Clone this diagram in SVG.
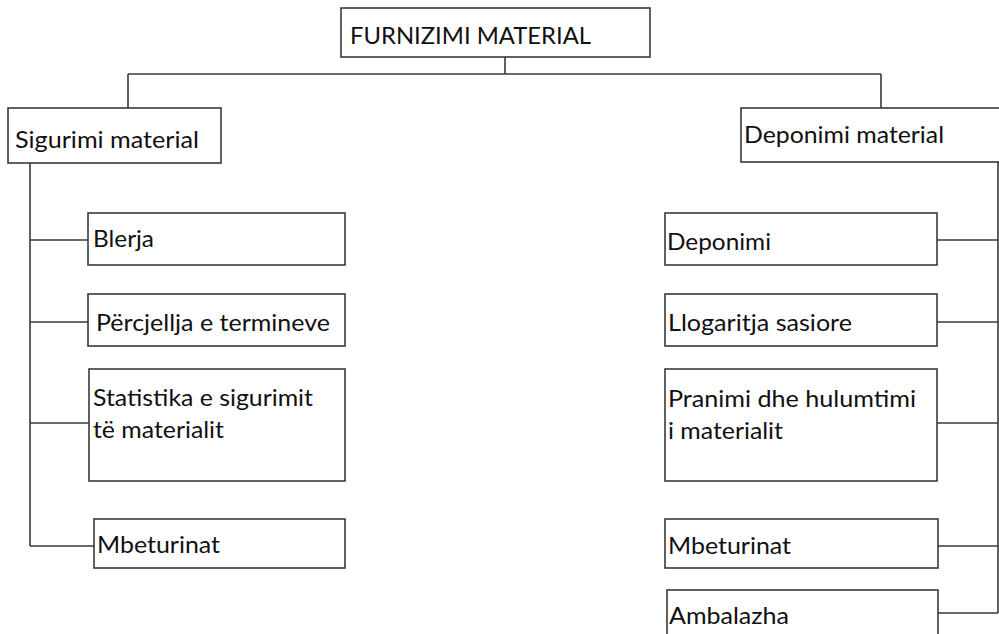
<svg xmlns="http://www.w3.org/2000/svg" width="999" height="634" viewBox="0 0 999 634">
<style>
.box{fill:#fff;stroke:#3a3a3a;stroke-width:1.6}
.ln{fill:none;stroke:#3a3a3a;stroke-width:1.6}
text{font-family:Lato,"Open Sans","Liberation Sans",sans-serif;font-size:24px;fill:#111}
</style>
<rect width="999" height="634" fill="#fff"/>
<g id="connectors">
<path class="ln" d="M505 57V74M128 74H881M128 74V108M881 74V108"/>
<path class="ln" d="M30 163V546M30 240H88M30 322H88M30 423H89M30 546H94"/>
<path class="ln" d="M998 162V613M937 240H998M937 322H998M937 423H998M938 546H998M938 613H998"/>
</g>
<g id="root"><rect class="box" x="341" y="8" width="309" height="49"/><text x="350" y="44" style="font-size:23px" textLength="241" lengthAdjust="spacingAndGlyphs">FURNIZIMI MATERIAL</text></g>
<g id="sigurimi"><rect class="box" x="8" y="108" width="213" height="55"/><text x="15" y="148" textLength="184" lengthAdjust="spacingAndGlyphs">Sigurimi material</text></g>
<g id="deponimi-material"><rect class="box" x="741" y="108" width="262" height="54"/><text x="744" y="143" textLength="200" lengthAdjust="spacingAndGlyphs">Deponimi material</text></g>
<g id="blerja"><rect class="box" x="88" y="213" width="257" height="52"/><text x="93" y="247" textLength="61" lengthAdjust="spacingAndGlyphs">Blerja</text></g>
<g id="percjellja"><rect class="box" x="88" y="294" width="257" height="52"/><text x="96" y="331" textLength="234" lengthAdjust="spacingAndGlyphs">Përcjellja e termineve</text></g>
<g id="statistika"><rect class="box" x="89" y="369" width="256" height="112"/><text x="93" y="406" textLength="220" lengthAdjust="spacingAndGlyphs">Statistika e sigurimit</text><text x="93" y="438" textLength="131" lengthAdjust="spacingAndGlyphs">të materialit</text></g>
<g id="mbeturinat-l"><rect class="box" x="94" y="519" width="251" height="49"/><text x="97" y="553" textLength="123" lengthAdjust="spacingAndGlyphs">Mbeturinat</text></g>
<g id="deponimi"><rect class="box" x="665" y="213" width="272" height="52"/><text x="667" y="250" textLength="104" lengthAdjust="spacingAndGlyphs">Deponimi</text></g>
<g id="llogaritja"><rect class="box" x="665" y="294" width="272" height="52"/><text x="668" y="331" textLength="184" lengthAdjust="spacingAndGlyphs">Llogaritja sasiore</text></g>
<g id="pranimi"><rect class="box" x="665" y="369" width="272" height="112"/><text x="668" y="407" textLength="248" lengthAdjust="spacingAndGlyphs">Pranimi dhe hulumtimi</text><text x="668" y="439" textLength="115" lengthAdjust="spacingAndGlyphs">i materialit</text></g>
<g id="mbeturinat-r"><rect class="box" x="665" y="519" width="273" height="49"/><text x="668" y="554" textLength="123" lengthAdjust="spacingAndGlyphs">Mbeturinat</text></g>
<g id="ambalazha"><rect class="box" x="667" y="590" width="271" height="60"/><text x="669" y="624" textLength="120" lengthAdjust="spacingAndGlyphs">Ambalazha</text></g>
</svg>
